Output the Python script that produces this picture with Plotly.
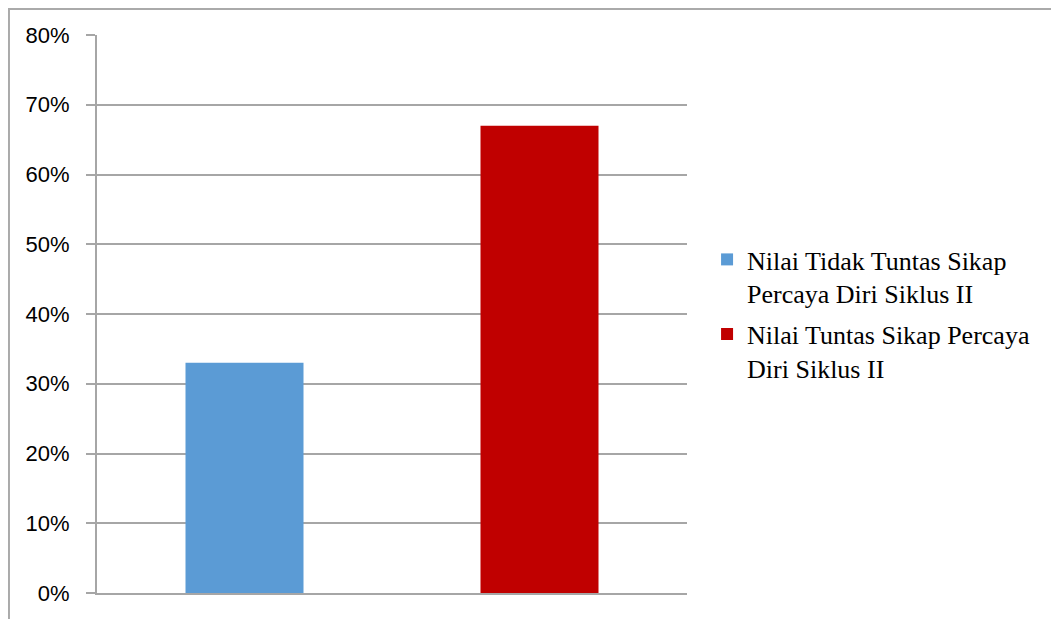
import plotly.graph_objects as go

# --- Data ---
categories = ["Tidak Tuntas", "Tuntas"]
series_names = [
    "Nilai Tidak Tuntas Sikap<br>Percaya Diri Siklus II",
    "Nilai Tuntas Sikap Percaya<br>Diri Siklus II",
]
values = [33, 67]
colors = ["#5B9BD5", "#C00000"]
y_ticks = [0, 10, 20, 30, 40, 50, 60, 70, 80]
y_tick_labels = [f"{v}%" for v in y_ticks]

GRID = "#A6A6A6"

fig = go.Figure()

# --- One trace per bar so each gets its own legend entry ---
for i, (cat, name, val, col) in enumerate(zip(categories, series_names, values, colors)):
    fig.add_trace(go.Bar(
        x=[cat],
        y=[val],
        name=name,
        legendgroup=f"g{i}",
        marker=dict(color=col, line=dict(width=0)),
        width=0.4,
        hovertemplate="%{y}%<extra></extra>",
    ))

# --- Outer chart border (only top and left edges fall inside the page) ---
fig.add_shape(
    type="rect", xref="paper", yref="paper",
    x0=-0.1492, x1=1.66, y0=-0.2, y1=1.0466,
    line=dict(color="#AAAAAA", width=2),
    fillcolor="rgba(0,0,0,0)",
    layer="below",
)

fig.update_layout(
    width=1059,
    height=619,
    barmode="overlay",
    plot_bgcolor="white",
    paper_bgcolor="white",
    # page body adds 8px, so margins are shifted by that much
    margin=dict(l=89, r=380, t=27, b=34),
    showlegend=True,
    legend=dict(
        x=1.034, xanchor="left",
        y=0.5, yanchor="middle",
        valign="top",
        tracegroupgap=4,
        font=dict(family="Liberation Serif, Times New Roman, serif", size=26, color="black"),
        bgcolor="rgba(0,0,0,0)",
    ),
    xaxis=dict(
        categoryorder="array",
        categoryarray=categories,
        showticklabels=False,
        showgrid=False,
        showline=True,
        linecolor=GRID,
        linewidth=2,
        ticks="",
        zeroline=False,
    ),
    yaxis=dict(
        range=[0, 80],
        tickvals=y_ticks,
        ticktext=y_tick_labels,
        showgrid=True,
        gridcolor=GRID,
        gridwidth=1.5,
        showline=True,
        linecolor=GRID,
        linewidth=2,
        ticks="outside",
        ticklen=9,
        tickcolor=GRID,
        tickwidth=1.5,
        ticklabelstandoff=12,
        zeroline=False,
        tickfont=dict(family="Liberation Sans, Arial, sans-serif", size=22, color="black"),
    ),
)

fig.write_html("out.html")
